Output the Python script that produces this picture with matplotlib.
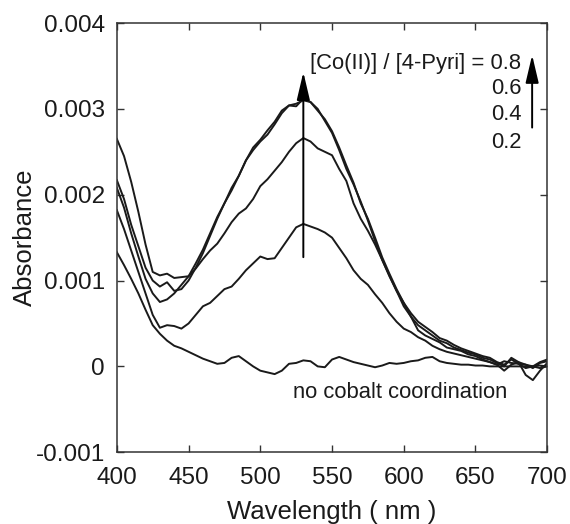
import numpy as np
import matplotlib
matplotlib.use('Agg')
import matplotlib.pyplot as plt

plt.rcParams['font.family'] = ['Liberation Sans', 'DejaVu Sans']

# wavelength grid (nm)
wl = np.arange(400, 705, 5)

# absorbance values, in units of 1e-3
no_cobalt = [1.33, 1.18, 1.02, 0.85, 0.66, 0.48, 0.38, 0.30, 0.24, 0.21,
             0.17, 0.13, 0.09, 0.06, 0.03, 0.04, 0.10, 0.12, 0.06, 0.00,
             -0.05, -0.07, -0.09, -0.05, 0.03, 0.04, 0.07, 0.06, 0.00, -0.01,
             0.08, 0.11, 0.08, 0.05, 0.03, 0.01, -0.01, 0.01, 0.04, 0.03,
             0.04, 0.06, 0.07, 0.10, 0.11, 0.06, 0.04, 0.03, 0.02, 0.02,
             0.01, 0.01, 0.00, 0.00, 0.00, 0.00, 0.00, 0.00, 0.00, 0.01, 0.00]
ratio_02 = [1.82, 1.60, 1.35, 1.10, 0.85, 0.60, 0.45, 0.48, 0.47, 0.44,
            0.50, 0.60, 0.70, 0.74, 0.82, 0.90, 0.93, 1.02, 1.12, 1.20,
            1.28, 1.25, 1.26, 1.38, 1.50, 1.62, 1.66, 1.63, 1.60, 1.56,
            1.50, 1.38, 1.26, 1.12, 1.02, 0.95, 0.84, 0.74, 0.62, 0.52,
            0.44, 0.40, 0.34, 0.30, 0.24, 0.20, 0.17, 0.15, 0.13, 0.11,
            0.09, 0.07, 0.05, 0.02, -0.05, 0.02, 0.05, -0.10, -0.16, -0.05, 0.04]
ratio_04 = [2.08, 1.85, 1.55, 1.28, 1.02, 0.85, 0.75, 0.78, 0.85, 0.95,
            1.05, 1.14, 1.25, 1.35, 1.43, 1.55, 1.68, 1.78, 1.84, 1.95,
            2.10, 2.18, 2.28, 2.38, 2.50, 2.60, 2.66, 2.62, 2.54, 2.50,
            2.46, 2.30, 2.16, 1.90, 1.72, 1.58, 1.42, 1.24, 1.05, 0.88,
            0.74, 0.58, 0.42, 0.36, 0.32, 0.28, 0.22, 0.20, 0.18, 0.14,
            0.12, 0.08, 0.05, 0.02, 0.06, 0.04, 0.03, 0.02, 0.00, -0.02, 0.00]
ratio_06 = [2.17, 1.95, 1.65, 1.40, 1.15, 1.00, 0.93, 0.98, 0.88, 0.90,
            1.00, 1.15, 1.32, 1.52, 1.72, 1.90, 2.05, 2.22, 2.40, 2.52,
            2.62, 2.70, 2.82, 2.95, 3.04, 3.06, 3.10, 3.08, 3.00, 2.86,
            2.72, 2.52, 2.30, 2.12, 1.92, 1.70, 1.46, 1.24, 1.06, 0.88,
            0.70, 0.58, 0.48, 0.42, 0.36, 0.30, 0.27, 0.22, 0.19, 0.16,
            0.14, 0.10, 0.08, 0.04, 0.00, 0.10, 0.05, 0.02, -0.02, 0.04, 0.06]
ratio_08 = [2.65, 2.45, 2.15, 1.80, 1.42, 1.10, 1.06, 1.08, 1.03, 1.04,
            1.05, 1.20, 1.36, 1.55, 1.74, 1.90, 2.08, 2.22, 2.40, 2.55,
            2.64, 2.75, 2.85, 2.98, 3.04, 3.03, 3.12, 3.08, 2.98, 2.88,
            2.74, 2.55, 2.34, 2.14, 1.90, 1.72, 1.50, 1.27, 1.08, 0.90,
            0.74, 0.62, 0.52, 0.46, 0.40, 0.33, 0.30, 0.25, 0.21, 0.18,
            0.15, 0.12, 0.10, 0.05, 0.02, 0.08, 0.03, -0.02, 0.00, 0.05, 0.08]

ratio_labels = ['[Co(II)] / [4-Pyri] = 0.8', '0.6', '0.4', '0.2']
yticks = [-0.001, 0, 0.001, 0.002, 0.003, 0.004]
ytick_labels = ['-0.001', '0', '0.001', '0.002', '0.003', '0.004']
xticks = [400, 450, 500, 550, 600, 650, 700]

fig = plt.figure(figsize=(5.7, 5.24), dpi=100)
ax = fig.add_axes([0.205, 0.137, 0.755, 0.819])

for s in [no_cobalt, ratio_02, ratio_04, ratio_06, ratio_08]:
    ax.plot(wl, np.array(s) * 1e-3, color='#1a1a1a', lw=1.4)

ax.set_xlim(400, 700)
ax.set_ylim(-0.001, 0.004)
ax.set_xticks(xticks)
ax.set_yticks(yticks)
ax.set_yticklabels(ytick_labels)
ax.tick_params(direction='in', length=5, width=1, labelsize=17.5, top=True, right=True,
               colors='#333333', labelcolor='#1a1a1a')
ax.tick_params(axis='x', pad=11)
ax.tick_params(axis='y', pad=8.5)
for sp in ax.spines.values():
    sp.set_linewidth(1.1)
    sp.set_color('#333333')

ax.set_xlabel('Wavelength ( nm )', fontsize=18.5, color='#1a1a1a')
ax.set_ylabel('Absorbance', fontsize=18.5, color='#1a1a1a')
ax.xaxis.set_label_coords(0.5, -0.112)
ax.yaxis.set_label_coords(-0.186, 0.5)

# arrows
arrow_kw = dict(arrowstyle='-|>,head_length=1.7,head_width=0.4', color='black', lw=1.4)
ax.annotate('', xy=(530, 0.00346), xytext=(530, 0.00124), arrowprops=arrow_kw)
ax.annotate('', xy=(689.5, 0.00366), xytext=(689.5, 0.00275), arrowprops=arrow_kw)

label_y = [0.00353, 0.00324, 0.00293, 0.00261]
for lab, yy in zip(ratio_labels, label_y):
    ax.text(682, yy, lab, ha='right', va='center', fontsize=15.8, color='#1a1a1a')

ax.text(597.5, -0.00031, 'no cobalt coordination', ha='center', va='center',
        fontsize=15.8, color='#1a1a1a')

fig.savefig('out.png', dpi=100)
